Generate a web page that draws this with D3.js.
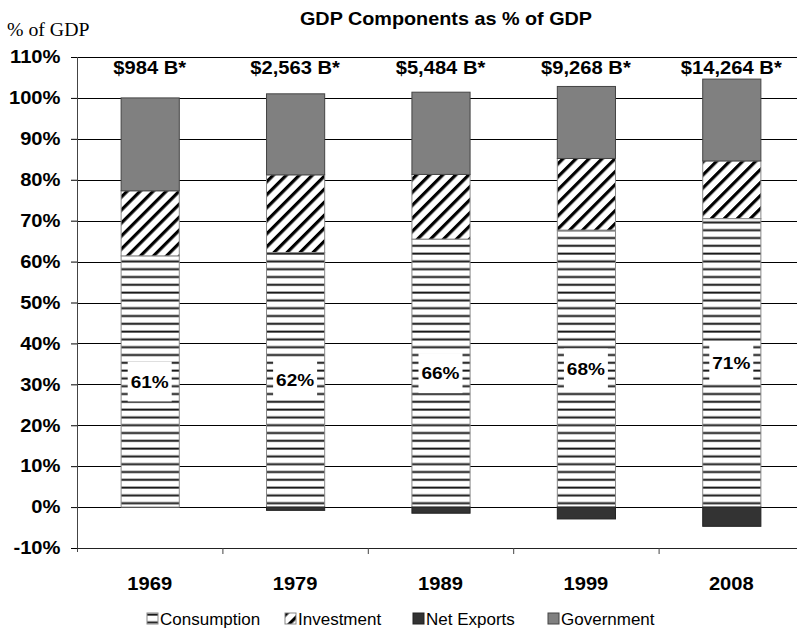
<!DOCTYPE html>
<html>
<head>
<meta charset="utf-8">
<script src="https://cdn.jsdelivr.net/npm/d3@7"></script>
<style>
  body { margin: 0; background: #fff; }
  svg { display: block; }
  text { font-family: "Liberation Sans", Arial, sans-serif; }
</style>
</head>
<body>
<div id="chart"></div>
<script>
// data (% of GDP)
const years = ["1969", "1979", "1989", "1999", "2008"];
const gdpLabels = ["$984 B*", "$2,563 B*", "$5,484 B*", "$9,268 B*", "$14,264 B*"];
const consumption = [61.4, 62.2, 65.5, 67.7, 70.5];
const investment = [15.9, 19.0, 15.8, 17.5, 14.1];
const netExports = [0, -0.8, -1.5, -2.9, -4.7];
const government = [22.7, 19.8, 20.1, 17.6, 20.0];
const yTicks = [-10, 0, 10, 20, 30, 40, 50, 60, 70, 80, 90, 100, 110];
const seriesNames = ["Consumption", "Investment", "Net Exports", "Government"];

const W = 797, H = 629;
const margin = { top: 57, right: -7, bottom: 81, left: 77 };
const width = W - margin.left - margin.right;
const height = H - margin.top - margin.bottom;
const SX = 1.12; // the original text is a bit wide

const rows = years.map((y, i) => ({
    year: y,
    Consumption: consumption[i],
    Investment: investment[i],
    "Net Exports": netExports[i],
    Government: government[i]
}));

const svg = d3.select("#chart").append("svg")
    .attr("width", W)
    .attr("height", H);

// patterns
const defs = svg.append("defs");
const hp = defs.append("pattern")
    .attr("id", "horiz")
    .attr("patternUnits", "userSpaceOnUse")
    .attr("width", 8).attr("height", 7.8);
hp.append("rect").attr("width", 8).attr("height", 7.8).attr("fill", "#fff");
hp.append("rect").attr("y", 0).attr("width", 8).attr("height", 1).attr("fill", "#aaa");
hp.append("rect").attr("y", 1).attr("width", 8).attr("height", 1.6).attr("fill", "#111");

const dp = defs.append("pattern")
    .attr("id", "diag")
    .attr("patternUnits", "userSpaceOnUse")
    .attr("width", 9.2).attr("height", 9.2)
    .attr("patternTransform", "rotate(45)");
dp.append("rect").attr("width", 9.2).attr("height", 9.2).attr("fill", "#fff");
dp.append("rect").attr("width", 3.2).attr("height", 9.2).attr("fill", "#000");

const fills = {
    "Consumption": "url(#horiz)",
    "Investment": "url(#diag)",
    "Net Exports": "#333333",
    "Government": "#808080"
};
const strokes = {
    "Consumption": "#888",
    "Investment": "#888",
    "Net Exports": "#222",
    "Government": "#444"
};

const g = svg.append("g")
    .attr("transform", `translate(${margin.left},${margin.top})`);

const x = d3.scaleBand()
    .domain(years)
    .range([0, width])
    .paddingInner(0.6)
    .paddingOuter(0.3);

const y = d3.scaleLinear()
    .domain([-10, 110])
    .range([height, 0]);

// gridlines
g.append("g")
    .selectAll("line")
    .data(yTicks.filter(t => t > -10))
    .enter().append("line")
    .attr("x1", 0).attr("x2", width)
    .attr("y1", d => Math.round(y(d)) + 0.5)
    .attr("y2", d => Math.round(y(d)) + 0.5)
    .attr("stroke", "#000")
    .attr("stroke-width", 1);

// stacked bars
const stack = d3.stack()
    .keys(seriesNames)
    .offset(d3.stackOffsetDiverging);
const layers = stack(rows);

g.selectAll(".layer")
    .data(layers)
    .enter().append("g")
    .attr("class", "layer")
    .attr("fill", d => fills[d.key])
    .attr("stroke", d => strokes[d.key])
    .selectAll("rect")
    .data(d => d.filter(p => p[1] !== p[0]))
    .enter().append("rect")
    .attr("x", d => x(d.data.year) + 0.5)
    .attr("y", d => y(Math.max(d[0], d[1])))
    .attr("width", x.bandwidth())
    .attr("height", d => Math.abs(y(d[0]) - y(d[1])))
    .attr("stroke-width", 1);

// consumption labels
const consLayer = layers[0];
const lbl = g.selectAll(".cons-label")
    .data(consLayer)
    .enter().append("g")
    .attr("class", "cons-label")
    .attr("transform", d => `translate(${x(d.data.year) + x.bandwidth() / 2},${y((d[0] + d[1]) / 2)})`);
lbl.append("rect")
    .attr("x", -22).attr("y", -20)
    .attr("width", 44).attr("height", 40)
    .attr("fill", "#fff");
lbl.append("text")
    .attr("text-anchor", "middle")
    .attr("dy", "0.36em")
    .attr("transform", `scale(${SX},1)`)
    .attr("font-size", 17)
    .attr("font-weight", "bold")
    .text(d => Math.round(d.data.Consumption) + "%");

// GDP totals above bars
g.selectAll(".gdp")
    .data(years)
    .enter().append("text")
    .attr("class", "gdp")
    .attr("transform", d => `translate(${x(d) + x.bandwidth() / 2},17) scale(${SX},1)`)
    .attr("text-anchor", "middle")
    .attr("font-size", 18)
    .attr("font-weight", "bold")
    .text((d, i) => gdpLabels[i]);

// y axis
const yAxis = g.append("g")
    .call(d3.axisLeft(y).tickValues(yTicks).tickSize(6).tickFormat(d => d + "%"));
yAxis.select(".domain").attr("stroke", "#444").attr("d", `M0.5,0V${height + 4}`);
yAxis.selectAll(".tick line").attr("stroke", "#000");
yAxis.selectAll(".tick text")
    .attr("x", 0)
    .attr("transform", `translate(-16.5,0) scale(${SX},1)`)
    .attr("font-size", 18)
    .attr("font-weight", "bold")
    .attr("fill", "#000");

// x axis
const xAxis = g.append("g")
    .attr("transform", `translate(0,${height})`)
    .call(d3.axisBottom(x).tickSize(0));
xAxis.select(".domain").attr("stroke", "#222");
xAxis.selectAll(".tick text")
    .attr("y", 0)
    .attr("transform", `translate(0,29) scale(${SX},1)`)
    .attr("font-size", 18)
    .attr("font-weight", "bold")
    .attr("fill", "#000");
// category separators
xAxis.selectAll(".sep")
    .data(years)
    .enter().append("line")
    .attr("x1", d => x(d) + x.bandwidth() + x.step() * 0.3 + 0.5)
    .attr("x2", d => x(d) + x.bandwidth() + x.step() * 0.3 + 0.5)
    .attr("y1", 0).attr("y2", 6)
    .attr("stroke", "#444");

// title
svg.append("text")
    .attr("transform", "translate(446,25) scale(1.1,1)")
    .attr("text-anchor", "middle")
    .attr("font-size", 18)
    .attr("font-weight", "bold")
    .text("GDP Components as % of GDP");

svg.append("text")
    .attr("transform", "translate(7,36) scale(1.1,1)")
    .style("font-family", "'Liberation Serif', 'Times New Roman', serif")
    .attr("font-size", 18)
    .text("% of GDP");

// legend
const legendX = [147, 285, 413, 548];
const legend = svg.append("g")
    .selectAll("g")
    .data(seriesNames)
    .enter().append("g")
    .attr("transform", (d, i) => `translate(${legendX[i]},613)`);
legend.append("rect")
    .attr("width", 11).attr("height", 11)
    .attr("fill", d => fills[d])
    .attr("stroke", d => strokes[d]);
legend.append("text")
    .attr("x", 13)
    .attr("y", 12)
    .attr("font-size", 17)
    .text(d => d);
</script>
</body>
</html>
